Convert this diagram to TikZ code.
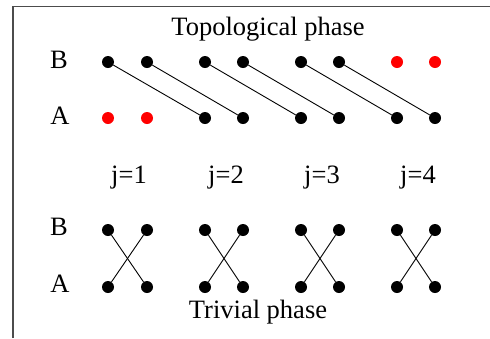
\documentclass[tikz,border=0pt]{standalone}
\usepackage{fontspec}
\setmainfont{Liberation Serif}
\usepackage{tikz}

\tikzset{
  dot/.style={circle,fill=black,inner sep=0pt,minimum size=12pt},
  rdot/.style={dot,fill=red},
  lbl/.style={font=\fontsize{26.5}{30}\selectfont,inner sep=0pt,anchor=base},
  bond/.style={line width=0.9pt}
}

\begin{document}
\begin{tikzpicture}[x=1pt,y=-1pt]
   \useasboundingbox (0,0) rectangle (490,338);
   \draw[line width=1.3pt,black!70] (13,338) -- (13,6.5) -- (490,6.5);
   % topological phase
   \node[lbl] (topo) at (268,35) {Topological phase};
   \node[lbl] (tB) at (59,68) {B};
   \node[lbl] (tA) at (60,124) {A};
   \node[dot] (tB1a) at (108,62) {};  \node[dot] (tB1b) at (147,62) {};
   \node[dot] (tB2a) at (205,62) {};  \node[dot] (tB2b) at (243,62) {};
   \node[dot] (tB3a) at (301,62) {};  \node[dot] (tB3b) at (339,62) {};
   \node[rdot] (tB4a) at (397,62) {}; \node[rdot] (tB4b) at (435,62) {};
   \node[rdot] (tA1a) at (108,118) {}; \node[rdot] (tA1b) at (147,118) {};
   \node[dot] (tA2a) at (205,118) {};  \node[dot] (tA2b) at (243,118) {};
   \node[dot] (tA3a) at (301,118) {};  \node[dot] (tA3b) at (339,118) {};
   \node[dot] (tA4a) at (397,118) {};  \node[dot] (tA4b) at (435,118) {};
   \path[bond] (tB1a) edge (tA2a)  (tB1b) edge (tA2b)
               (tB2a) edge (tA3a)  (tB2b) edge (tA3b)
               (tB3a) edge (tA4a)  (tB3b) edge (tA4b);
   % unit cells
   \node[lbl] (j1) at (129,183) {j=1};
   \node[lbl] (j2) at (226,183) {j=2};
   \node[lbl] (j3) at (322,183) {j=3};
   \node[lbl] (j4) at (418,183) {j=4};
   % trivial phase
   \node[lbl] (rB) at (59,235) {B};
   \node[lbl] (rA) at (60,292) {A};
   \node[dot] (rB1a) at (108,230) {}; \node[dot] (rB1b) at (147,230) {};
   \node[dot] (rB2a) at (205,230) {}; \node[dot] (rB2b) at (243,230) {};
   \node[dot] (rB3a) at (301,230) {}; \node[dot] (rB3b) at (339,230) {};
   \node[dot] (rB4a) at (397,230) {}; \node[dot] (rB4b) at (435,230) {};
   \node[dot] (rA1a) at (108,287) {}; \node[dot] (rA1b) at (147,287) {};
   \node[dot] (rA2a) at (205,287) {}; \node[dot] (rA2b) at (243,287) {};
   \node[dot] (rA3a) at (301,287) {}; \node[dot] (rA3b) at (339,287) {};
   \node[dot] (rA4a) at (397,287) {}; \node[dot] (rA4b) at (435,287) {};
   \path[bond] (rB1a) edge (rA1b)  (rB1b) edge (rA1a)
               (rB2a) edge (rA2b)  (rB2b) edge (rA2a)
               (rB3a) edge (rA3b)  (rB3b) edge (rA3a)
               (rB4a) edge (rA4b)  (rB4b) edge (rA4a);
   \node[lbl] (triv) at (258,318) {Trivial phase};
  \end{tikzpicture}
\end{document}
